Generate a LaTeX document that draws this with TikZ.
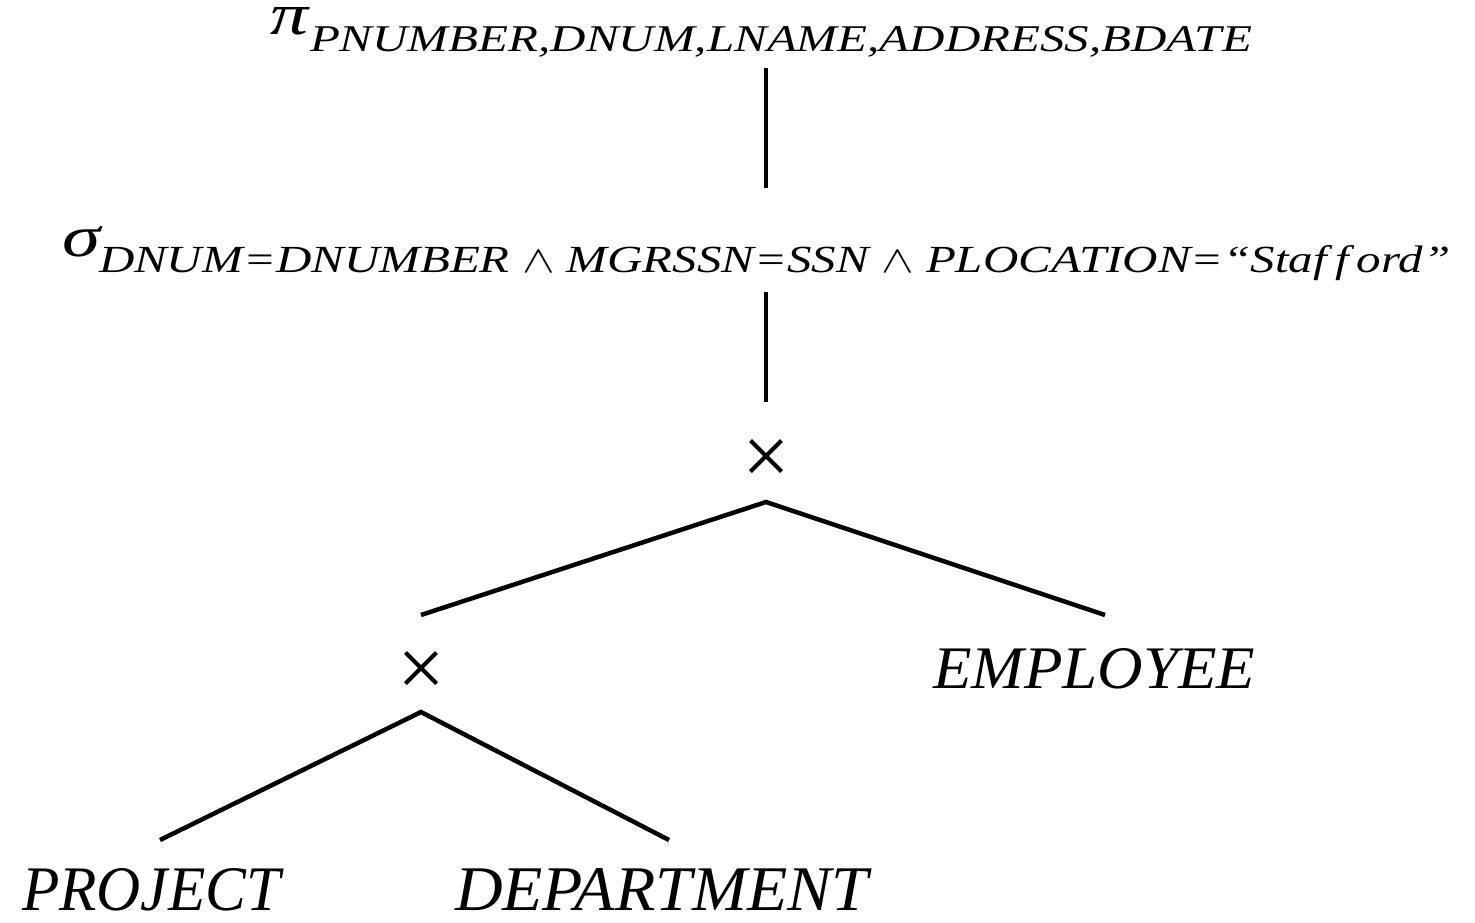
\documentclass[tikz,border=0pt]{standalone}
\usepackage{fontspec}
\setmainfont{Liberation Serif}
\usepackage{graphicx}
\usetikzlibrary{shapes.misc}
\begin{document}
\begin{tikzpicture}[x=1pt,y=-1pt,
  lbl/.style={inner sep=0pt, outer sep=0pt, font=\itshape},
  edge/.style={line width=4.5pt},
  prod/.style={cross out, draw, line width=4pt, minimum size=31pt,
    inner sep=0pt, outer sep=0pt}]
\useasboundingbox (0,0) rectangle (1475,922);

% projection
\node[lbl, anchor=base west] (pisym) at (270,34) {\resizebox{38pt}{27pt}{π}};
\node[lbl, anchor=base west] (pisub) at (310,51)
  {\resizebox{942pt}{25pt}{PNUMBER,DNUM,LNAME,ADDRESS,BDATE}};

% selection
\node[lbl, anchor=base west] (sgsym) at (62,256) {\resizebox{38pt}{30pt}{σ}};
\node[lbl, anchor=base west] (sgsub) at (99,272)
  {\resizebox{1351pt}{27pt}{DNUM=DNUMBER $\wedge$ MGRSSN=SSN $\wedge$ PLOCATION=“Staf\,f\,ord”}};

% cartesian products
\node[prod] (cpa) at (766,456) {};
\node[prod] (cpb) at (421,668) {};

% relations
\node[lbl, anchor=base west] (emp) at (933,688) {\resizebox{322pt}{40pt}{EMPLOYEE}};
\node[lbl, anchor=base west] (proj) at (22,910) {\resizebox{258pt}{42pt}{PROJECT}};
\node[lbl, anchor=base west] (dept) at (455,910) {\resizebox{413pt}{42pt}{DEPARTMENT}};

% edge end points
\coordinate (piA) at (766,68);
\coordinate (piB) at (766,188);
\coordinate (sgA) at (766,292);
\coordinate (sgB) at (766,402);
\coordinate (cpaT) at (766,502);
\coordinate (cpbI) at (421,615);
\coordinate (empI) at (1105,615);
\coordinate (cpbT) at (421,712);
\coordinate (projI) at (160,840);
\coordinate (deptI) at (669,840);

\draw[edge] (piA) -- (piB);
\draw[edge] (sgA) -- (sgB);
\draw[edge] (cpbI) -- (cpaT) -- (empI);
\draw[edge] (projI) -- (cpbT) -- (deptI);
\end{tikzpicture}
\end{document}
